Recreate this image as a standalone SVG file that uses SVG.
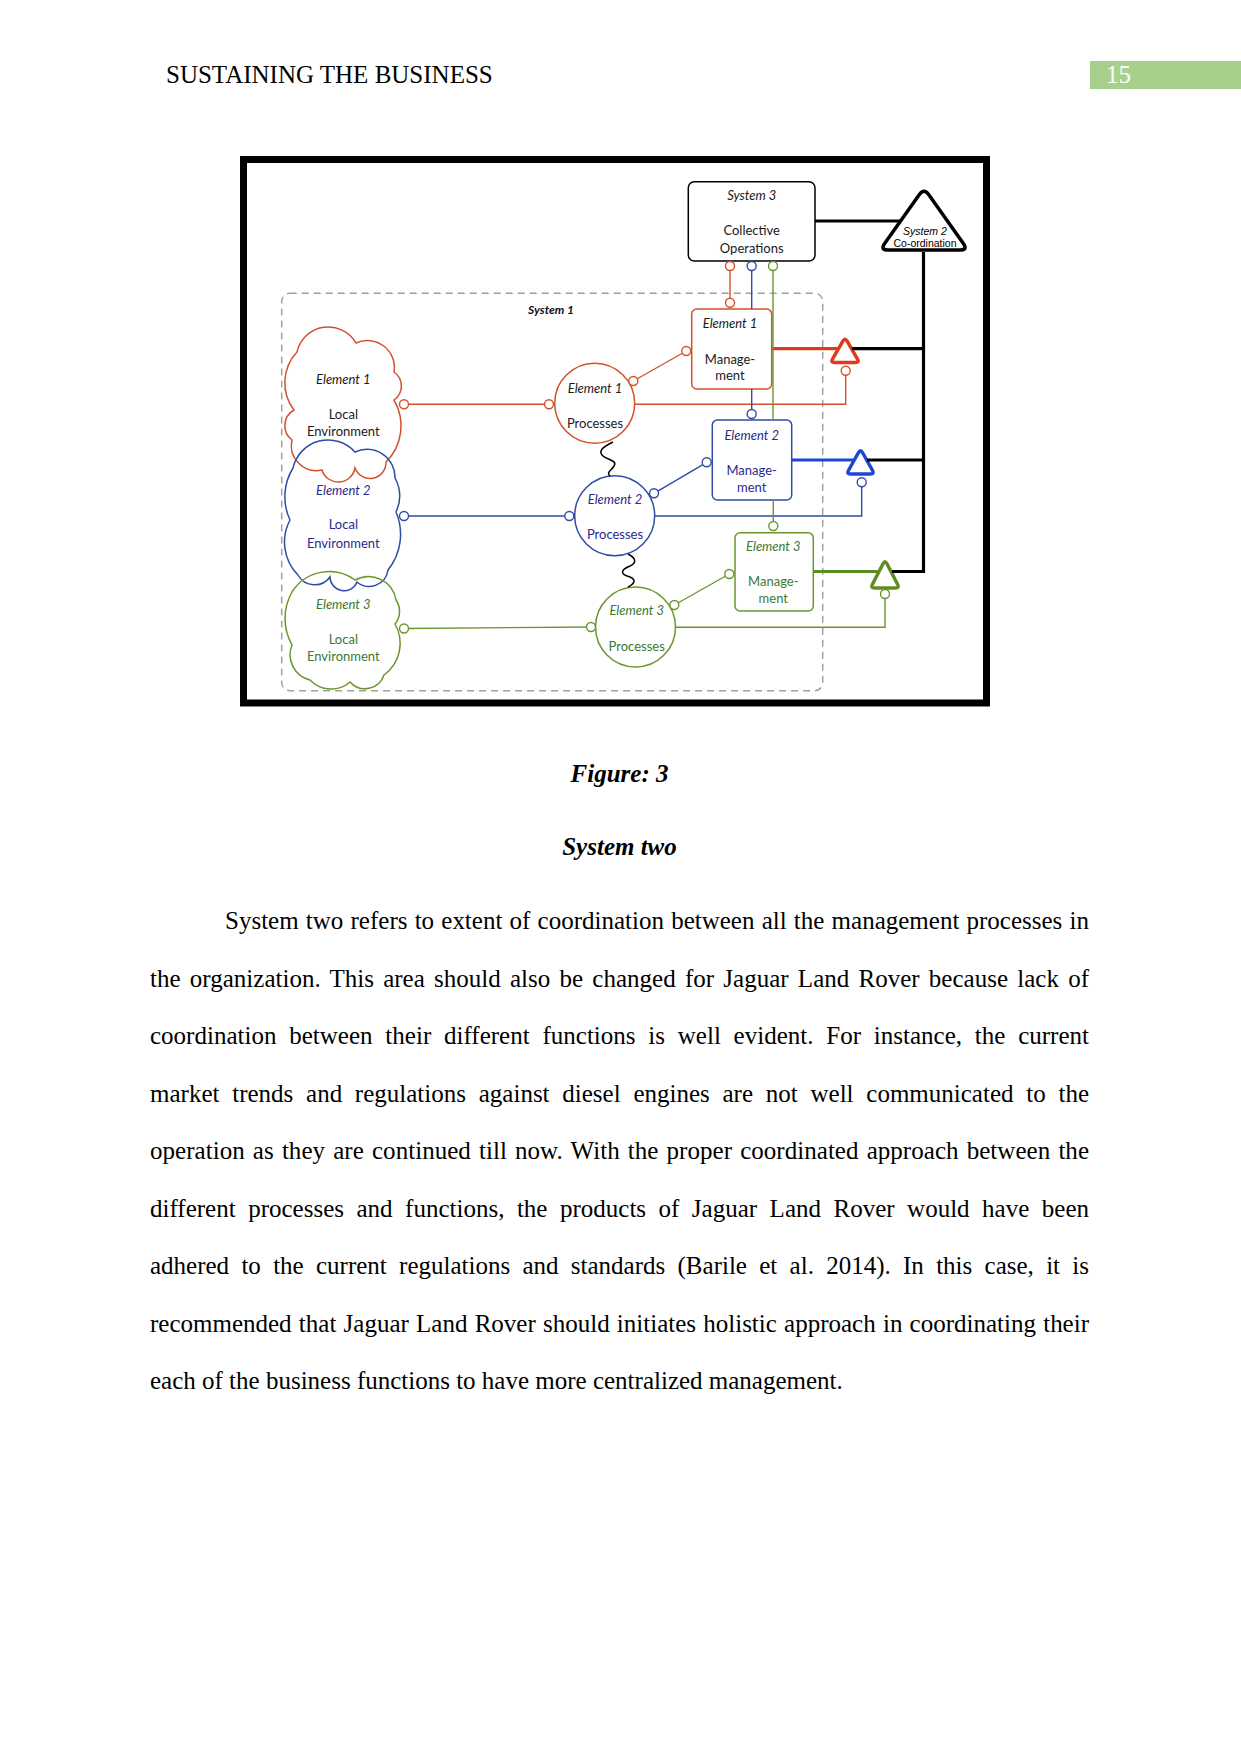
<svg xmlns="http://www.w3.org/2000/svg" width="1241" height="1754" viewBox="0 0 1241 1754">
<defs>
<style>
.serif{font-family:"Liberation Serif","Times New Roman",serif;font-size:25px;fill:#000}
.cap{font-weight:bold;font-style:italic;text-anchor:middle}
.lbl{font-family:Lato,"Open Sans",sans-serif;font-size:13px;text-anchor:middle}
.it{font-style:italic}
.tk{fill:#1a1a1a}.tb{fill:#2B2B8C}.tg{fill:#3A7A34}
.sr{stroke:#D4502C}.sb{stroke:#2E4DA6}.sg{stroke:#6B962C}
.node{fill:#fff;stroke-width:1.5}
.cloud{fill:none;stroke-width:1.5}
.thin{fill:none;stroke-width:1.4}
.thick{fill:none;stroke-width:3.2}
.dot{fill:#fff;stroke-width:1.4}
.blk{fill:none;stroke:#000;stroke-width:3.2}
.tri{fill:#fff;stroke-width:3.5;stroke-linejoin:round}
.sq{fill:none;stroke:#000;stroke-width:1.5}
.s2{font-family:"Liberation Sans",Arial,sans-serif;font-size:10.5px;text-anchor:middle}
</style>
</defs>
<rect width="1241" height="1754" fill="#fff"/>

<g id="page-header">
<text class="serif" x="166" y="83">SUSTAINING THE BUSINESS</text>
<rect x="1090" y="61" width="151" height="28" fill="#A8D08D"/>
<text class="serif" x="1106" y="83" style="fill:#fff">15</text>
</g>

<g id="figure">
<rect x="243.5" y="159.5" width="743" height="543.5" fill="#fff" stroke="#000" stroke-width="7"/>

<g id="system1">
<rect x="281.7" y="293.3" width="541" height="397.4" rx="8" fill="none" stroke="#A0A0A0" stroke-width="1.5" stroke-dasharray="7 5"/>
<text class="lbl it" x="551" y="314" style="font-weight:bold;font-size:12px;fill:#111">System 1</text>
</g>

<g id="system3">
<rect class="node" x="688.3" y="181.7" width="126.7" height="79.3" rx="6" stroke="#000"/>
<text class="lbl it tk" x="751.7" y="200">System 3</text>
<text class="lbl tk" x="751.7" y="235">Collective</text>
<text class="lbl tk" x="751.7" y="253">Operations</text>
</g>

<g id="system2">
<path class="tri" stroke="#000" d="M919.37,194.53 Q924,188 928.63,194.53 L963.37,243.47 Q968,250 960,250 L888,250 Q880,250 884.63,243.47 Z"/>
<text class="s2" x="925" y="234.5" style="font-style:italic">System 2</text>
<text class="s2" x="925" y="246.5">Co-ordination</text>
</g>

<g id="env1">
<path class="cloud sr" d="M297,352 A32,32 0 0 1 356,343 A27,27 0 0 1 394,372 A17,17 0 0 1 394,400 A51,51 0 0 1 386,462 A16,16 0 0 1 355,468 A17,17 0 0 1 322,470 A25,25 0 0 1 292,440 A18,18 0 0 1 294,410 A45,45 0 0 1 297,352 Z"/>
<text class="lbl it tk" x="343.3" y="383.5">Element 1</text>
<text class="lbl tk" x="343.3" y="418.5">Local</text>
<text class="lbl tk" x="343.3" y="436">Environment</text>
</g>

<g id="env2">
<path class="cloud sb" d="M293,468 A36,36 0 0 1 355,452 A28,28 0 0 1 395,478 A38,38 0 0 1 396,512 A57,57 0 0 1 388,570 A19,19 0 0 1 357,582 A14,14 0 0 1 330,577 A19,19 0 0 1 298,575 A47,47 0 0 1 290,520 A55,55 0 0 1 293,468 Z"/>
<text class="lbl it tb" x="343.3" y="495">Element 2</text>
<text class="lbl tb" x="343.3" y="529">Local</text>
<text class="lbl tb" x="343.3" y="548">Environment</text>
</g>

<g id="env3">
<path class="cloud sg" d="M292,592 A44,44 0 0 1 355,580 A28,28 0 0 1 396,600 A20,20 0 0 1 395,624 A39,39 0 0 1 384,675 A20,20 0 0 1 350,682 A29,29 0 0 1 310,680 A26,26 0 0 1 292,645 A54,54 0 0 1 292,592 Z"/>
<text class="lbl it tg" x="343.3" y="608.5">Element 3</text>
<text class="lbl tg" x="343.3" y="644">Local</text>
<text class="lbl tg" x="343.3" y="661">Environment</text>
</g>

<g id="proc1">
<circle class="node sr" cx="594.7" cy="403.3" r="40"/>
<text class="lbl it tk" x="595" y="393">Element 1</text>
<text class="lbl tk" x="595" y="428">Processes</text>
</g>
<g id="proc2">
<circle class="node sb" cx="614.7" cy="515.8" r="40"/>
<text class="lbl it tb" x="615" y="503.5">Element 2</text>
<text class="lbl tb" x="615" y="538.5">Processes</text>
</g>
<g id="proc3">
<circle class="node sg" cx="635.5" cy="627" r="40"/>
<text class="lbl it tg" x="636.7" y="614.5">Element 3</text>
<text class="lbl tg" x="636.7" y="651">Processes</text>
</g>

<g id="mgmt1">
<rect class="node sr" x="691.7" y="309" width="80" height="80" rx="5"/>
<text class="lbl it tk" x="730" y="328">Element 1</text>
<text class="lbl tk" x="730" y="363.5">Manage-</text>
<text class="lbl tk" x="730" y="380">ment</text>
</g>
<g id="mgmt2">
<rect class="node sb" x="712.3" y="420" width="79.4" height="80" rx="5"/>
<text class="lbl it tb" x="751.7" y="439.5">Element 2</text>
<text class="lbl tb" x="751.7" y="474.5">Manage-</text>
<text class="lbl tb" x="751.7" y="491.8">ment</text>
</g>
<g id="mgmt3">
<rect class="node sg" x="735" y="532.7" width="78.3" height="78.3" rx="5"/>
<text class="lbl it tg" x="773.3" y="551">Element 3</text>
<text class="lbl tg" x="773.3" y="586">Manage-</text>
<text class="lbl tg" x="773.3" y="603">ment</text>
</g>

<g id="coord1"><path class="tri" stroke="#E03A1E" d="M842.99,340.96 Q845,337.5 847.01,340.96 L857.49,359.04 Q859.5,362.5 855.5,362.5 L834.5,362.5 Q830.5,362.5 832.51,359.04 Z"/></g>
<g id="coord2"><path class="tri" stroke="#1E46D2" d="M858.54,452.49 Q860.5,449 862.46,452.49 L872.54,470.51 Q874.5,474 870.5,474 L850.5,474 Q846.5,474 848.46,470.51 Z"/></g>
<g id="coord3"><path class="tri" stroke="#5E8E22" d="M883.16,563.55 Q885,560 886.84,563.55 L897.66,584.45 Q899.5,588 895.5,588 L874.5,588 Q870.5,588 872.34,584.45 Z"/></g>

<g id="connectors">
<path class="blk" d="M815,221 H900"/>
<path class="blk" d="M923.5,252 V571.5 H892"/>
<path class="blk" d="M852,348.7 H923.5"/>
<path class="blk" d="M867,460 H923.5"/>
<path class="thick" stroke="#E03A1E" d="M771.7,348.7 H838"/>
<path class="thick" stroke="#1E46D2" d="M791.7,460 H854"/>
<path class="thick" stroke="#5E8E22" d="M813.3,571.5 H878"/>
<path class="thin sr" d="M730,266 V302.7"/>
<path class="thin sr" d="M404,404.3 H549"/>
<path class="thin sr" d="M634.7,404.3 H845.7 V370.7"/>
<path class="thin sr" d="M633.3,381 L686.3,351"/>
<path class="thin sb" d="M751.7,266 V309"/>
<path class="thin sb" d="M751.7,389 V414"/>
<path class="thin sb" d="M404,516 H569.3"/>
<path class="thin sb" d="M654.7,516 H861.7 V482.3"/>
<path class="thin sb" d="M654,493.3 L706.7,462.3"/>
<path class="thin sg" d="M773,266 V420"/>
<path class="thin sg" d="M773.3,500 V526"/>
<path class="thin sg" d="M404,628.5 L591,627"/>
<path class="thin sg" d="M675.5,627.3 H885 V594"/>
<path class="thin sg" d="M674.3,605 L729.3,574"/>
<path class="sq" d="M613,442 C605,446 598,450 602,455 C606,460 618,460 614,466 C611,471 606,472 610,476"/>
<path class="sq" d="M628,554 C636,558 637,563 630,566 C620,570 620,574 630,577 C637,580 634,584 628,587"/>
<circle class="dot sr" cx="730" cy="266" r="4.5"/>
<circle class="dot sr" cx="730" cy="302.7" r="4.5"/>
<circle class="dot sr" cx="404" cy="404.3" r="4.5"/>
<circle class="dot sr" cx="549" cy="404.3" r="4.5"/>
<circle class="dot sr" cx="845.7" cy="370.7" r="4.5"/>
<circle class="dot sr" cx="633.3" cy="381" r="4.5"/>
<circle class="dot sr" cx="686.3" cy="351" r="4.5"/>
<circle class="dot sb" cx="751.7" cy="266" r="4.5"/>
<circle class="dot sb" cx="751.7" cy="414" r="4.5"/>
<circle class="dot sb" cx="404" cy="516" r="4.5"/>
<circle class="dot sb" cx="569.3" cy="516" r="4.5"/>
<circle class="dot sb" cx="861.7" cy="482.3" r="4.5"/>
<circle class="dot sb" cx="654" cy="493.3" r="4.5"/>
<circle class="dot sb" cx="706.7" cy="462.3" r="4.5"/>
<circle class="dot sg" cx="773" cy="266" r="4.5"/>
<circle class="dot sg" cx="773.3" cy="526" r="4.5"/>
<circle class="dot sg" cx="404" cy="628.5" r="4.5"/>
<circle class="dot sg" cx="591" cy="627" r="4.5"/>
<circle class="dot sg" cx="885" cy="594" r="4.5"/>
<circle class="dot sg" cx="674.3" cy="605" r="4.5"/>
<circle class="dot sg" cx="729.3" cy="574" r="4.5"/>
</g>
</g>

<g id="caption">
<text class="serif cap" x="619.5" y="782">Figure: 3</text>
<text class="serif cap" x="619.5" y="855">System two</text>
</g>

<g id="body-text" class="serif">
<text x="225" y="929" word-spacing="0.95" textLength="864" lengthAdjust="spacing">System two refers to extent of coordination between all the management processes in</text>
<text x="150" y="986.5" word-spacing="2.95" textLength="939" lengthAdjust="spacing">the organization. This area should also be changed for Jaguar Land Rover because lack of</text>
<text x="150" y="1044" word-spacing="6.5" textLength="939" lengthAdjust="spacing">coordination between their different functions is well evident. For instance, the current</text>
<text x="150" y="1101.5" word-spacing="6.5" textLength="939" lengthAdjust="spacing">market trends and regulations against diesel engines are not well communicated to the</text>
<text x="150" y="1159" word-spacing="1.85" textLength="939" lengthAdjust="spacing">operation as they are continued till now. With the proper coordinated approach between the</text>
<text x="150" y="1216.5" word-spacing="6.2" textLength="939" lengthAdjust="spacing">different processes and functions, the products of Jaguar Land Rover would have been</text>
<text x="150" y="1274" word-spacing="6.04" textLength="939" lengthAdjust="spacing">adhered to the current regulations and standards (Barile et al. 2014). In this case, it is</text>
<text x="150" y="1331.5" word-spacing="0.97" textLength="939" lengthAdjust="spacing">recommended that Jaguar Land Rover should initiates holistic approach in coordinating their</text>
<text x="150" y="1389">each of the business functions to have more centralized management.</text>
</g>
</svg>
